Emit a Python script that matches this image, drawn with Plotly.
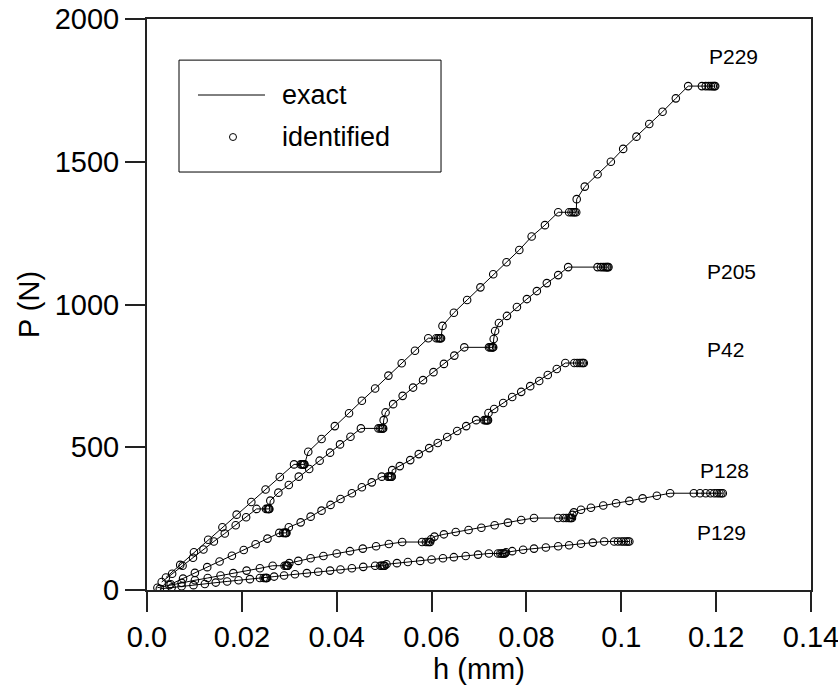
import plotly.graph_objects as go

# ---------------- data ----------------
h_P229 = [0.0040, 0.0070, 0.0099, 0.0129, 0.0159, 0.0189, 0.0220, 0.0250, 0.0280, 0.0310,
          0.0324, 0.0327, 0.0329, 0.0331, 0.0332,
          0.0340, 0.0368, 0.0396, 0.0426, 0.0453, 0.0481, 0.0509, 0.0537, 0.0565, 0.0593,
          0.0610, 0.0614, 0.0617, 0.0619, 0.0620,
          0.0623, 0.0647, 0.0675, 0.0703, 0.0730, 0.0758, 0.0785, 0.0811, 0.0839, 0.0867,
          0.0890, 0.0895, 0.0899, 0.0902, 0.0905,
          0.0906, 0.0923, 0.0950, 0.0978, 0.1004, 0.1032, 0.1059, 0.1087, 0.1115, 0.1141,
          0.1170, 0.1178, 0.1184, 0.1189, 0.1193, 0.1196, 0.1198]
P_P229 = [44, 88, 132, 176, 220, 264, 308, 352, 396, 440,
          440, 440, 440, 440, 440,
          484, 529, 574, 619, 663, 706, 751, 794, 838, 882,
          882, 882, 882, 882, 882,
          925, 971, 1016, 1060, 1106, 1148, 1191, 1238, 1278, 1323,
          1323, 1323, 1323, 1323, 1323,
          1369, 1413, 1456, 1500, 1545, 1588, 1632, 1675, 1722, 1765,
          1765, 1765, 1765, 1765, 1765, 1765, 1765]

h_P205 = [0.0031, 0.0053, 0.0075, 0.0097, 0.0119, 0.0141, 0.0164, 0.0187, 0.0209, 0.0231,
          0.0251, 0.0254, 0.0256, 0.0257, 0.0258,
          0.0260, 0.0277, 0.0299, 0.0320, 0.0342, 0.0364, 0.0386, 0.0407, 0.0429, 0.0451,
          0.0488, 0.0492, 0.0495, 0.0497, 0.0498,
          0.0499, 0.0503, 0.0519, 0.0539, 0.0561, 0.0582, 0.0604, 0.0626, 0.0648, 0.0669,
          0.0721, 0.0724, 0.0727, 0.0729, 0.0730,
          0.0731, 0.0734, 0.0742, 0.0759, 0.0780, 0.0801, 0.0822, 0.0843, 0.0867, 0.0888,
          0.0950, 0.0957, 0.0962, 0.0966, 0.0969, 0.0971, 0.0973]
P_P205 = [28, 57, 85, 113, 142, 170, 198, 227, 255, 284,
          284, 284, 284, 284, 284,
          313, 341, 368, 397, 424, 453, 481, 510, 537, 566,
          566, 566, 566, 566, 566,
          595, 622, 651, 680, 709, 735, 763, 792, 821, 850,
          850, 850, 850, 850, 850,
          879, 907, 935, 960, 991, 1019, 1047, 1075, 1103, 1131,
          1131, 1131, 1131, 1131, 1131, 1131, 1131]

h_P42 = [0.0050, 0.0076, 0.0101, 0.0127, 0.0153, 0.0179, 0.0204, 0.0229, 0.0254, 0.0279,
         0.0287, 0.0290, 0.0292, 0.0293, 0.0294,
         0.0299, 0.0324, 0.0345, 0.0368, 0.0387, 0.0408, 0.0432, 0.0453, 0.0474, 0.0495,
         0.0508, 0.0511, 0.0513, 0.0515, 0.0516,
         0.0517, 0.0533, 0.0555, 0.0573, 0.0595, 0.0613, 0.0633, 0.0654, 0.0673, 0.0694,
         0.0711, 0.0714, 0.0716, 0.0718, 0.0719,
         0.0720, 0.0732, 0.0751, 0.0770, 0.0789, 0.0808, 0.0827, 0.0845, 0.0864, 0.0882,
         0.0901, 0.0907, 0.0912, 0.0916, 0.0919, 0.0921]
P_P42 = [20, 40, 60, 80, 100, 120, 140, 160, 180, 200,
         200, 200, 200, 200, 200,
         220, 237, 257, 278, 298, 319, 339, 360, 377, 397,
         397, 397, 397, 397, 397,
         420, 434, 455, 476, 497, 515, 536, 557, 574, 595,
         595, 595, 595, 595, 595,
         620, 634, 655, 676, 694, 714, 732, 753, 774, 795,
         795, 795, 795, 795, 795, 795]

h_P128 = [0.0022, 0.0047, 0.0073, 0.0101, 0.0128, 0.0155, 0.0182, 0.0210, 0.0238, 0.0265,
          0.0290, 0.0293, 0.0295, 0.0296, 0.0297,
          0.0300, 0.0319, 0.0345, 0.0372, 0.0400, 0.0428, 0.0455, 0.0483, 0.0510, 0.0538,
          0.0580, 0.0588, 0.0592, 0.0595, 0.0597,
          0.0599, 0.0606, 0.0626, 0.0651, 0.0678, 0.0705, 0.0733, 0.0761, 0.0789, 0.0816,
          0.0867, 0.0878, 0.0884, 0.0889, 0.0892, 0.0894, 0.0896,
          0.0897, 0.0900, 0.0915, 0.0936, 0.0962, 0.0989, 0.1017, 0.1045, 0.1075, 0.1103,
          0.1153, 0.1166, 0.1178, 0.1188, 0.1196, 0.1202, 0.1207, 0.1211, 0.1214]
P_P128 = [8, 17, 25, 34, 42, 51, 59, 68, 76, 85,
          85, 85, 85, 85, 85,
          94, 102, 111, 119, 128, 136, 145, 153, 161, 168,
          168, 168, 168, 168, 168,
          178, 187, 195, 203, 210, 218, 227, 236, 245, 252,
          252, 252, 252, 252, 252, 252, 252,
          263, 272, 281, 288, 296, 304, 312, 321, 330, 339,
          339, 339, 339, 339, 339, 339, 339, 339, 339]

h_P129 = [0.0027, 0.0052, 0.0073, 0.0098, 0.0122, 0.0145, 0.0169, 0.0193, 0.0217, 0.0238,
          0.0246, 0.0249, 0.0251, 0.0252, 0.0253,
          0.0268, 0.0289, 0.0312, 0.0337, 0.0361, 0.0386, 0.0408, 0.0432, 0.0456, 0.0481,
          0.0492, 0.0495, 0.0498, 0.0500, 0.0501,
          0.0505, 0.0527, 0.0550, 0.0576, 0.0600, 0.0624, 0.0647, 0.0672, 0.0698, 0.0721,
          0.0740, 0.0745, 0.0748, 0.0751, 0.0753, 0.0755,
          0.0757, 0.0770, 0.0793, 0.0816, 0.0841, 0.0867, 0.0890, 0.0915, 0.0940, 0.0964,
          0.0985, 0.0993, 0.1000, 0.1005, 0.1010, 0.1014, 0.1017]
P_P129 = [4, 9, 13, 17, 21, 26, 30, 34, 38, 42,
          42, 42, 42, 42, 42,
          47, 51, 55, 59, 64, 68, 72, 76, 81, 85,
          85, 85, 85, 85, 85,
          90, 94, 98, 102, 107, 111, 115, 119, 124, 128,
          128, 128, 128, 128, 128, 128,
          132, 136, 141, 145, 149, 153, 157, 162, 166, 170,
          170, 170, 170, 170, 170, 170, 170]

curve_names = ["P229", "P205", "P42", "P128", "P129"]
curve_h = [h_P229, h_P205, h_P42, h_P128, h_P129]
curve_P = [P_P229, P_P205, P_P42, P_P128, P_P129]
label_h = [0.1236, 0.1233, 0.1219, 0.1217, 0.1211]
label_P = [1867, 1114, 843, 417, 200]

x_tickvals = [0.0, 0.02, 0.04, 0.06, 0.08, 0.10, 0.12, 0.14]
x_ticktext = ["0.0", "0.02", "0.04", "0.06", "0.08", "0.1", "0.12", "0.14"]
y_tickvals = [0, 500, 1000, 1500, 2000]
y_ticktext = ["0", "500", "1000", "1500", "2000"]

FONT = "Liberation Sans, Arial, Helvetica, sans-serif"

fig = go.Figure()
for name, hs, ps in zip(curve_names, curve_h, curve_P):
    fig.add_trace(go.Scatter(x=hs, y=ps, mode="lines", name="exact",
                             line=dict(color="black", width=1), showlegend=False))
    fig.add_trace(go.Scatter(x=hs, y=ps, mode="markers", name="identified",
                             marker=dict(symbol="circle-open", size=7.5,
                                         color="black", line=dict(width=1.1)),
                             showlegend=False))

for name, lx, ly in zip(curve_names, label_h, label_P):
    fig.add_annotation(x=lx, y=ly, text=name, showarrow=False,
                       font=dict(family=FONT, size=21, color="black"))

# legend box (drawn manually to match the reference look)
fig.add_shape(type="rect", xref="paper", yref="paper", x0=0.0482, x1=0.4428,
              y0=0.732, y1=0.928, line=dict(color="black", width=1), fillcolor="white")
fig.add_shape(type="line", xref="paper", yref="paper", x0=0.0768, x1=0.1777,
              y0=0.8669, y1=0.8669, line=dict(color="black", width=1))
fig.add_shape(type="circle", xref="paper", yref="paper", x0=0.1295 - 0.0053,
              x1=0.1295 + 0.0053, y0=0.7933 - 0.0061, y1=0.7933 + 0.0061,
              line=dict(color="black", width=1))
fig.add_annotation(xref="paper", yref="paper", x=0.2003, y=0.8669, text="exact",
                   showarrow=False, xanchor="left", yanchor="middle",
                   font=dict(family=FONT, size=27, color="black"))
fig.add_annotation(xref="paper", yref="paper", x=0.2003, y=0.7933, text="identified",
                   showarrow=False, xanchor="left", yanchor="middle",
                   font=dict(family=FONT, size=27, color="black"))

fig.update_layout(
    width=838, height=688,
    margin=dict(l=147, r=27, t=19, b=98, autoexpand=False),
    paper_bgcolor="white", plot_bgcolor="white",
    font=dict(family=FONT, size=29, color="black"),
    showlegend=False,
)
fig.update_xaxes(range=[0, 0.14], tickvals=x_tickvals, ticktext=x_ticktext,
                 ticks="outside", ticklen=20, tickwidth=1.5, tickcolor="#222222",
                 showline=True, linecolor="#222222", linewidth=2, mirror=True,
                 showgrid=False, zeroline=False, automargin=False,
                 ticklabeloverflow="allow",
                 tickfont=dict(family=FONT, size=29),
                 title=dict(text="h (mm)", font=dict(family=FONT, size=29), standoff=5))
fig.update_yaxes(range=[0, 2000], tickvals=y_tickvals, ticktext=y_ticktext,
                 ticks="outside", ticklen=20, tickwidth=1.5, tickcolor="#222222",
                 showline=True, linecolor="#222222", linewidth=2, mirror=True,
                 showgrid=False, zeroline=False, automargin=False,
                 tickfont=dict(family=FONT, size=29),
                 title=dict(text="P (N)", font=dict(family=FONT, size=29), standoff=7))

fig.write_html("out.html")
